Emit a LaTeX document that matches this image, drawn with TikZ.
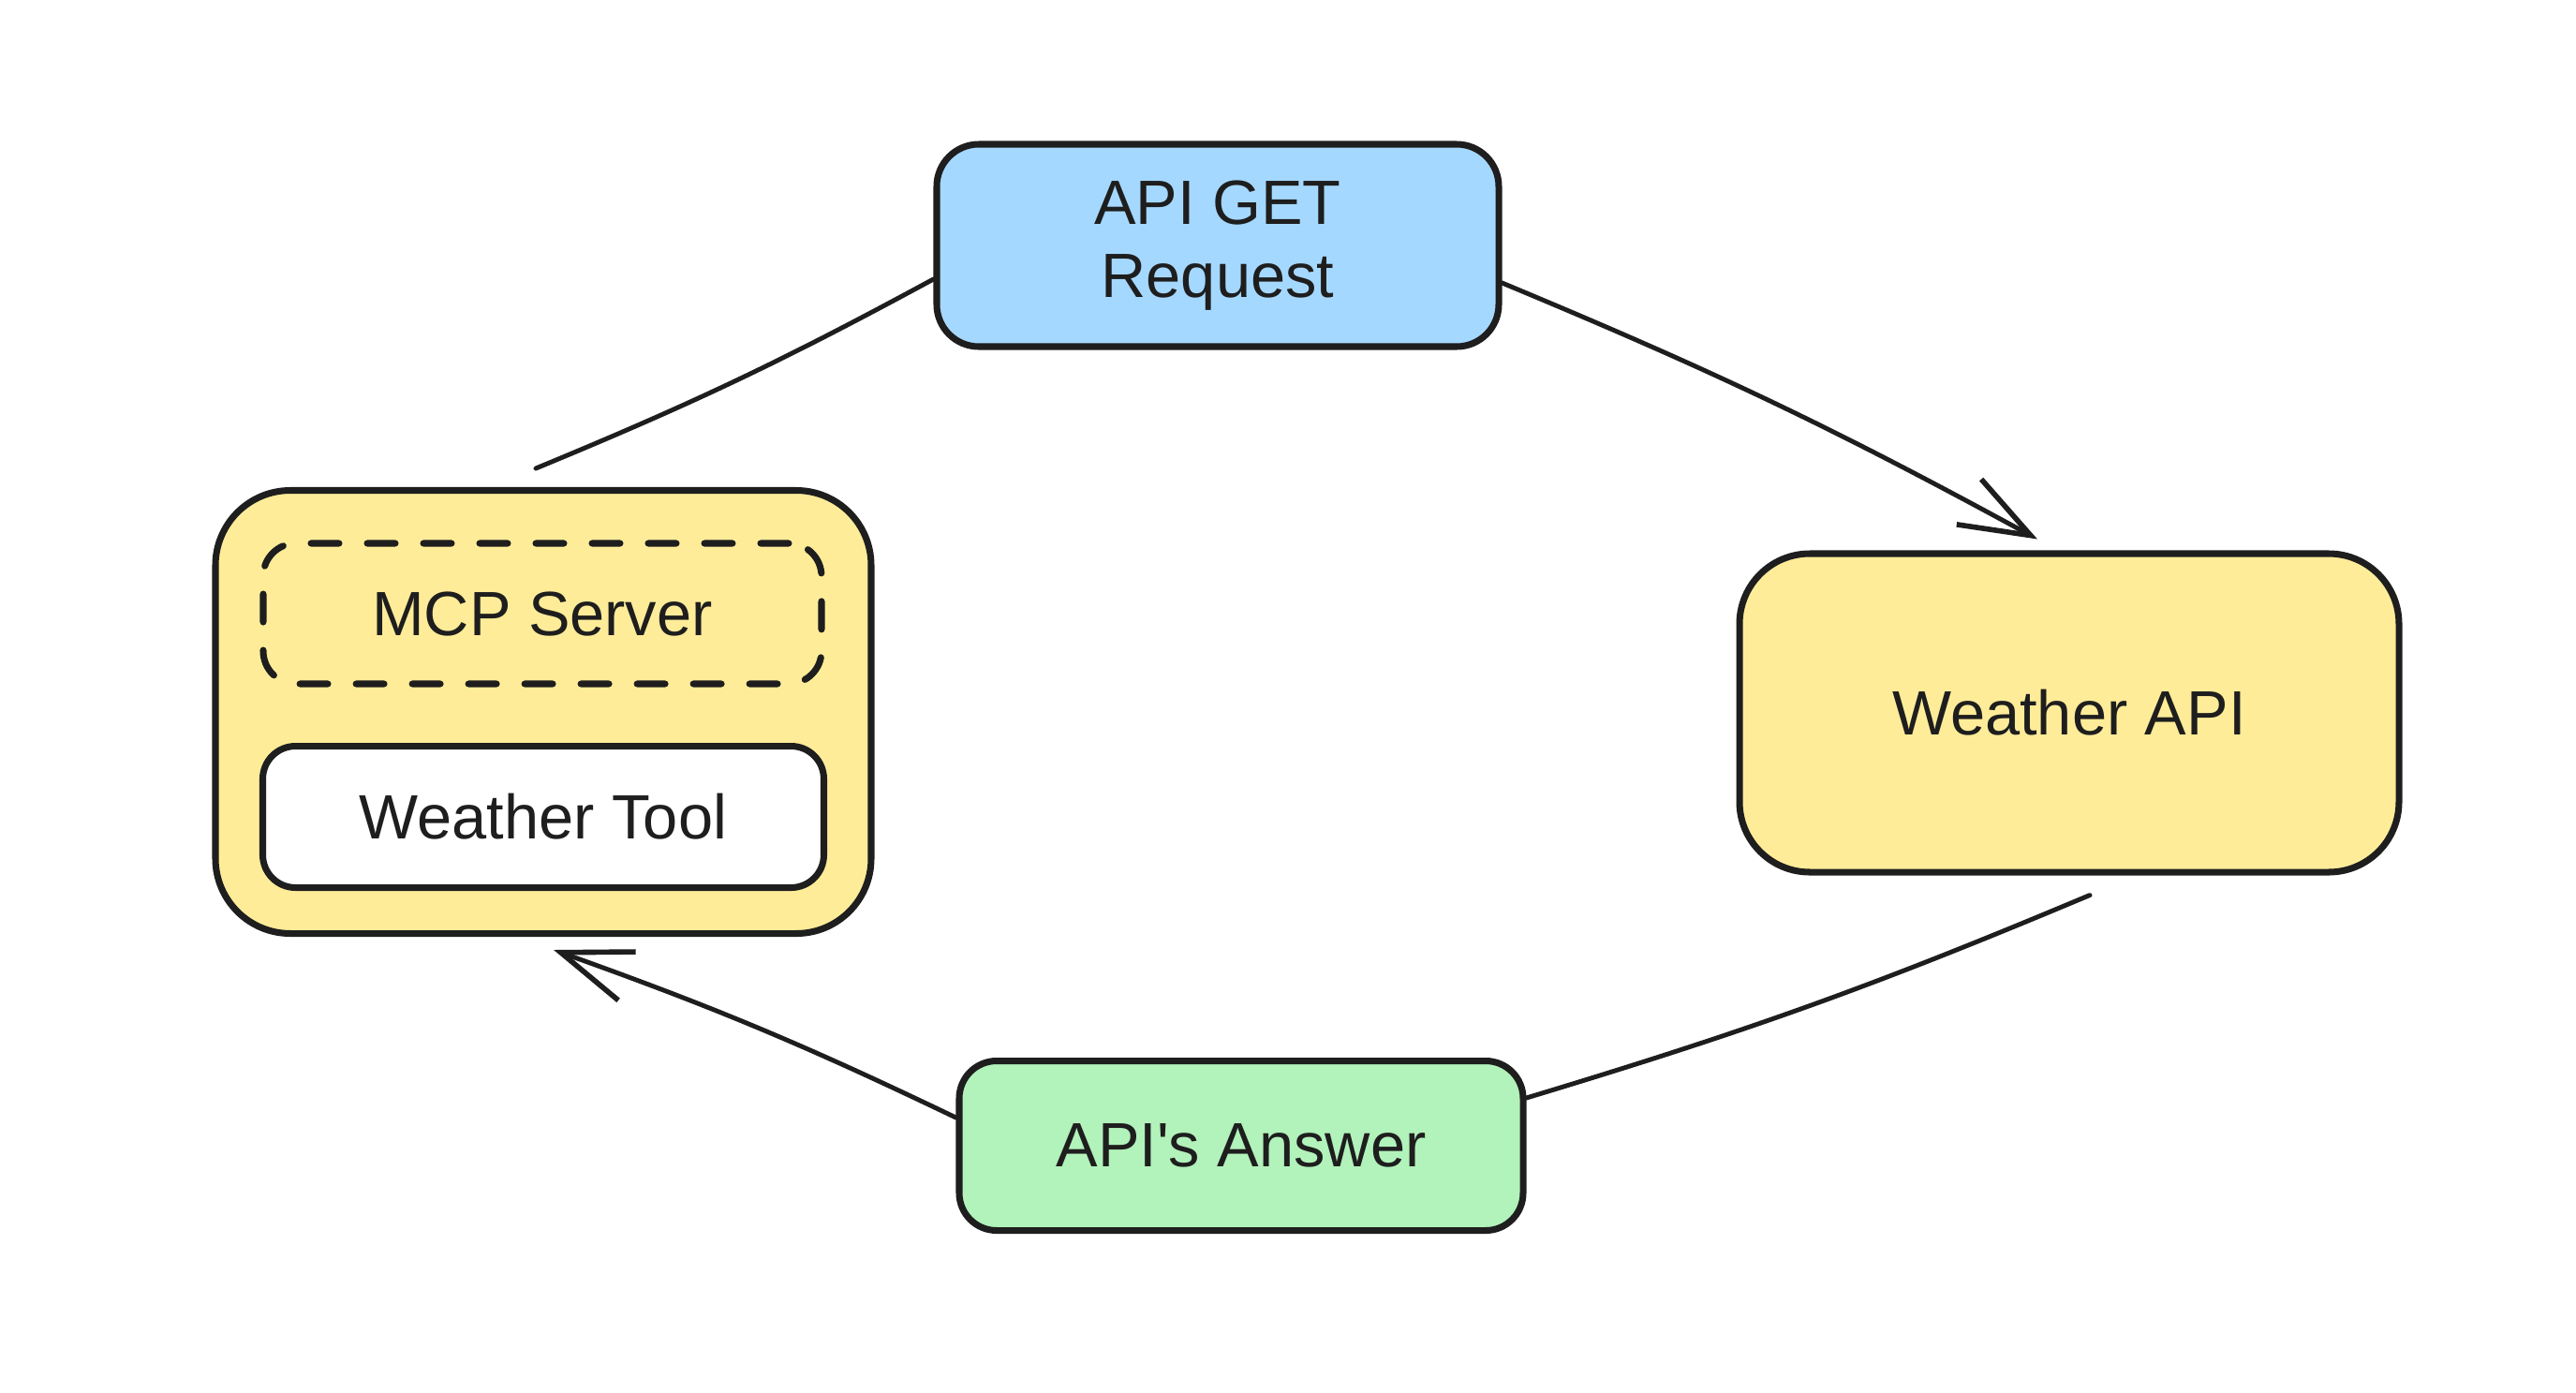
\documentclass[tikz,border=0pt]{standalone}
\usepackage{fontspec}
\setmainfont{Liberation Sans}
\usepackage{xcolor}
\usepackage{tikz}
\usetikzlibrary{arrows.meta}
\definecolor{tinta}{HTML}{1E1E1E}
\definecolor{azul}{HTML}{A5D8FF}
\definecolor{amarillo}{HTML}{FFEC99}
\definecolor{verde}{HTML}{B2F2BB}
\tikzset{caja/.style={draw=tinta,text=tinta,rounded corners=#1,inner sep=0pt,align=center},caja/.default=0.4cm,
flecha/.style={draw=tinta,line width=1.4pt,line cap=round},
punta/.style={-{Straight Barb[length=0.75cm,width=0.55cm,line width=1.6pt]}}}

\begin{document}
\begin{tikzpicture}[line width=2pt,font=\fontsize{19}{22}\selectfont]
\useasboundingbox (0,0) rectangle (27.5,-14.86);

\node[caja=0.45cm,fill=azul,minimum width=6cm,minimum height=2.16cm](GET)at(13,-2.62){API GET\\Request};

\node[caja=0.8cm,fill=amarillo,minimum width=7cm,minimum height=4.73cm](MCP)at(5.8,-7.6){};
\node[caja=0.35cm,dash pattern=on 0.3cm off 0.3cm,line cap=round,minimum width=5.96cm,minimum height=1.5cm](SRV)at(5.79,-6.55){MCP Server};
\node[caja=0.35cm,fill=white,minimum width=5.99cm,minimum height=1.51cm](TOOL)at(5.8,-8.72){Weather Tool};

\node[caja=0.75cm,fill=amarillo,minimum width=7.04cm,minimum height=3.4cm](WAPI)at(22.09,-7.61){Weather API};
\node[caja=0.4cm,fill=verde,minimum width=6.02cm,minimum height=1.81cm](ANS)at(13.25,-12.23){API\textquotesingle s Answer};

\draw[flecha]([xshift=-0.08cm,yshift=0.2cm]MCP.north)to[bend right=3]([yshift=-0.36cm]GET.west);
\draw[flecha,punta]([yshift=-0.4cm]GET.east)to[bend left=3]([xshift=-0.34cm,yshift=0.12cm]WAPI.north);
\draw[flecha]([xshift=0.22cm,yshift=-0.21cm]WAPI.south)to[bend left=3]([yshift=0.51cm]ANS.east);
\draw[flecha,punta]([yshift=0.3cm]ANS.west)to[bend right=3]([xshift=0.11cm,yshift=-0.14cm]MCP.south);

\end{tikzpicture}
\end{document}
